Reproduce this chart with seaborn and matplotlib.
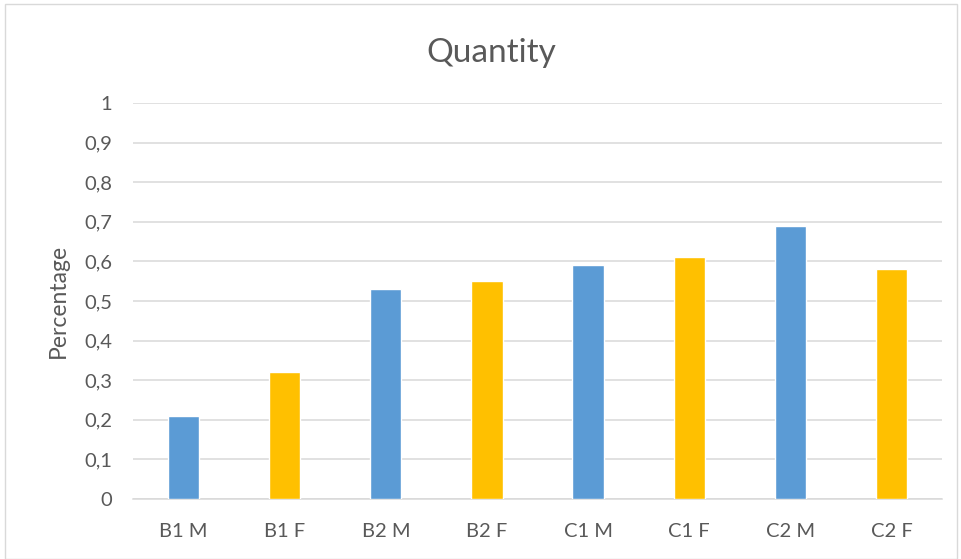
import matplotlib
matplotlib.use("Agg")
import matplotlib.pyplot as plt
import matplotlib.ticker as mticker
from matplotlib.patches import Rectangle
import seaborn as sns
import pandas as pd

categories = ["B1 M", "B1 F", "B2 M", "B2 F", "C1 M", "C1 F", "C2 M", "C2 F"]
values = [0.21, 0.32, 0.53, 0.55, 0.59, 0.61, 0.69, 0.58]
groups = ["M", "F", "M", "F", "M", "F", "M", "F"]
y_ticks = [0, 0.1, 0.2, 0.3, 0.4, 0.5, 0.6, 0.7, 0.8, 0.9, 1.0]

df = pd.DataFrame({"cat": categories, "val": values, "grp": groups})

sns.set_theme(style="white")
plt.rcParams["font.family"] = ["Lato", "DejaVu Sans"]
text_color = "#595959"

fig = plt.figure(figsize=(9.62, 5.59), dpi=100)
ax = fig.add_axes([133 / 962, 1 - 499 / 559, (942 - 133) / 962, (499 - 103) / 559])

sns.barplot(data=df, x="cat", y="val", hue="grp", order=categories,
            palette={"M": "#5B9BD5", "F": "#FFC000"}, dodge=False,
            width=0.31, saturation=1, legend=False, ax=ax, zorder=3)

ax.set_ylim(0, 1)
ax.set_yticks(y_ticks)
ax.yaxis.set_major_formatter(mticker.FuncFormatter(
    lambda v, p: ("%g" % round(v, 1)).replace(".", ",")))
ax.grid(axis="y", color="#D9D9D9", linewidth=1.1, zorder=0)
for s in ["top", "right", "left"]:
    ax.spines[s].set_visible(False)
ax.spines["bottom"].set_color("#D9D9D9")
ax.spines["bottom"].set_linewidth(1.1)
ax.tick_params(axis="both", length=0, labelsize=14.5, labelcolor=text_color)
ax.tick_params(axis="x", pad=17)
ax.tick_params(axis="y", pad=15)
ax.set_xlabel("")
ax.set_ylabel("")
ax.set_xlim(-0.5, len(categories) - 0.5)

fig.text(58 / 962, 1 - 301 / 559, "Percentage", rotation=90, ha="center",
         va="center", fontsize=16.5, color=text_color)
fig.text(491 / 962, 1 - 53 / 559, "Quantity", ha="center", va="center",
         fontsize=24, color=text_color)

# outer chart border
fig.patches.append(Rectangle((5 / 962, 0.0), 952 / 962, 1 - 4 / 559,
                             transform=fig.transFigure, fill=False,
                             edgecolor="#D9D9D9", linewidth=1.0))

fig.savefig("out.png", dpi=100)
